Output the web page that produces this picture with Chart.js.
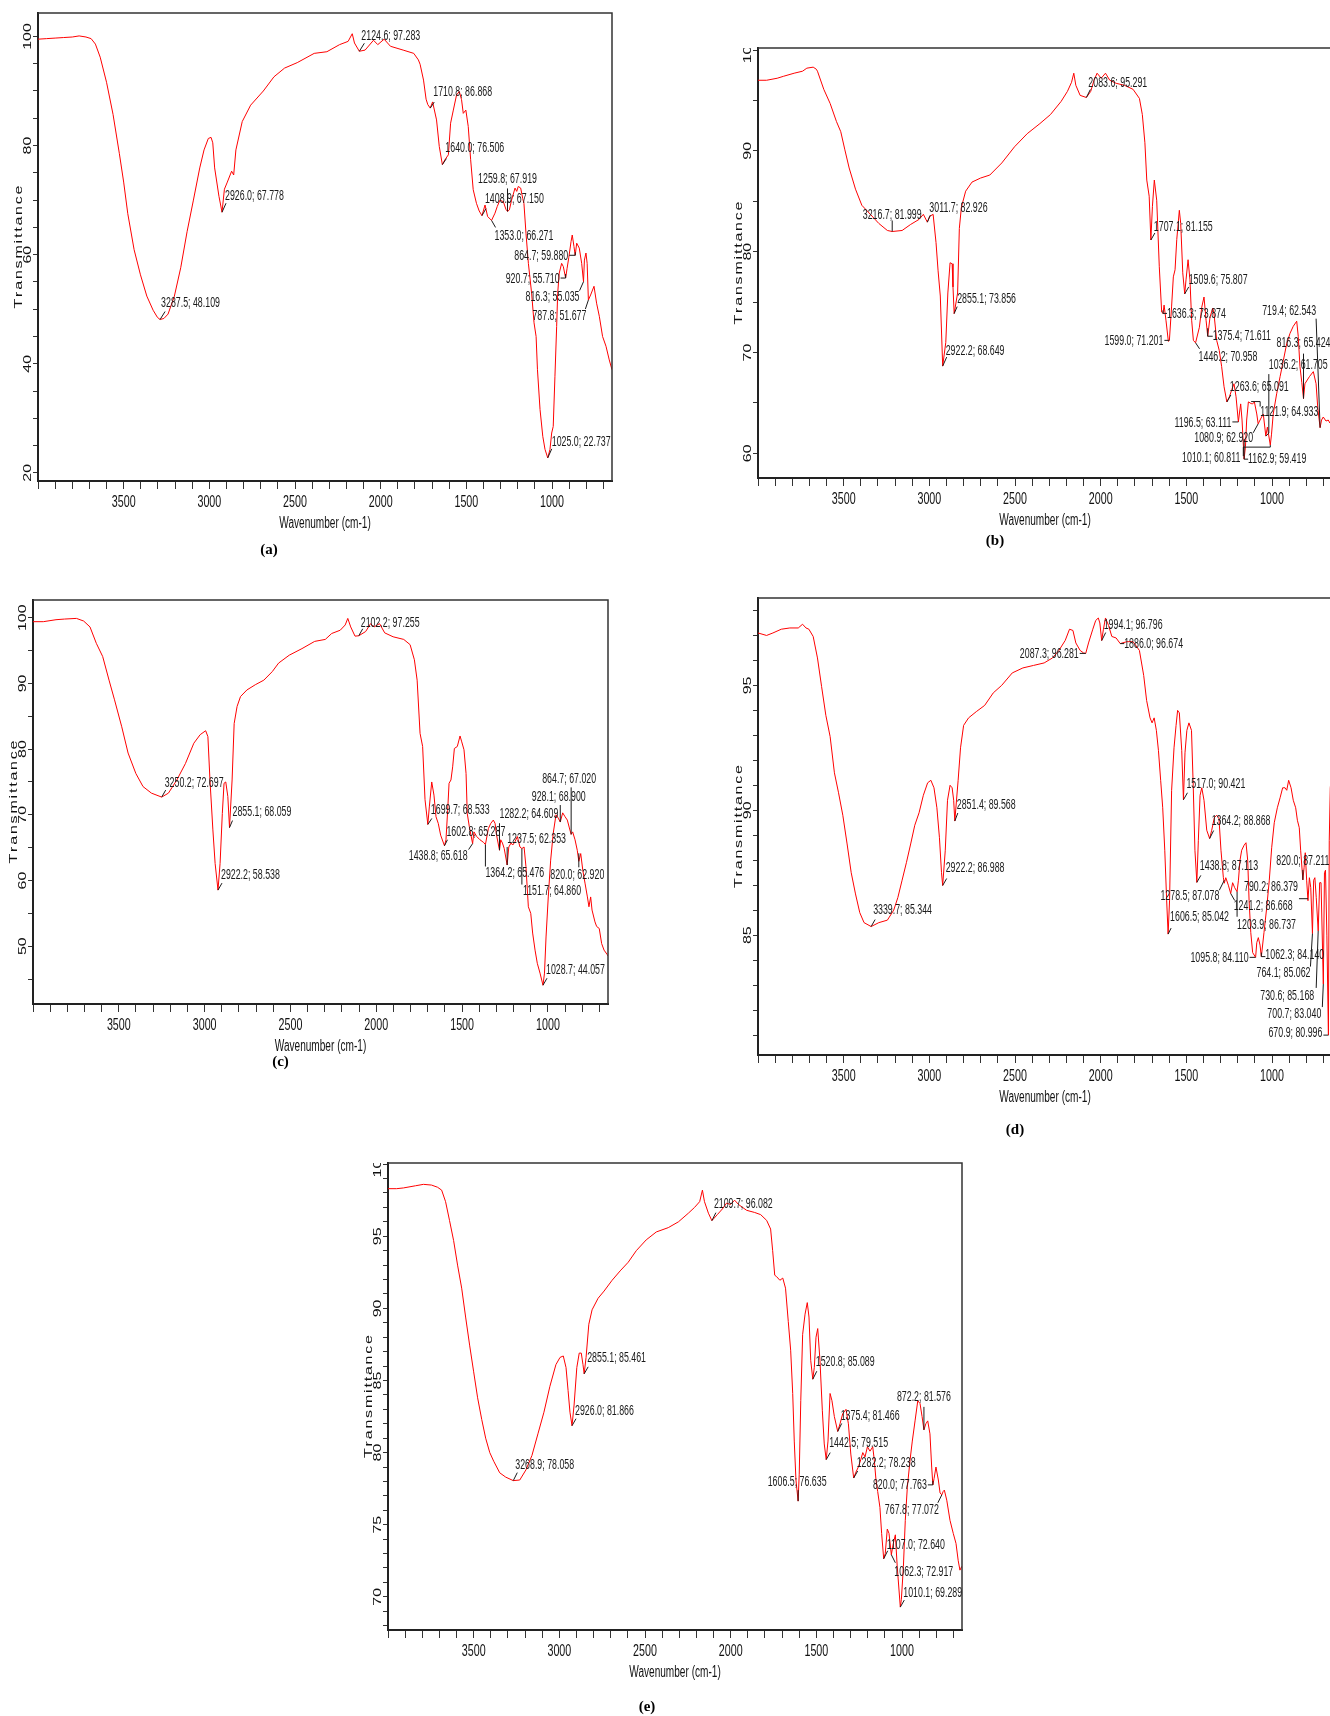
<!DOCTYPE html>
<html><head><meta charset="utf-8">
<script src="https://cdn.jsdelivr.net/npm/chart.js@4/dist/chart.umd.min.js"></script>
<style>
html,body{margin:0;padding:0;background:#fff;overflow:hidden;width:1330px;height:1716px;}
canvas{position:absolute;}
</style></head><body>
<canvas id="ca"></canvas><canvas id="cb"></canvas><canvas id="cc"></canvas><canvas id="cd"></canvas><canvas id="ce"></canvas>
<script>
// ---------- DATA ----------
const xTickLabels = [3500, 3000, 2500, 2000, 1500, 1000];
const yAxisTitle = "Transmittance";
const xAxisTitle = "Wavenumber (cm-1)";
const panelNames = ["(a)", "(b)", "(c)", "(d)", "(e)"];

// (a)
const aWn = [4000,3950,3900,3850,3800,3760,3720,3690,3665,3637,3600,3562,3525,3500,3476,3439,3402,3365,3328,3303,3287.5,3265,3241,3204,3167,3130,3093,3056,3031,3006,2990,2980,2969,2944,2926,2912,2895,2870,2858,2845,2808,2759,2685,2623,2561,2487,2388,2314,2240,2190,2166,2153,2124.6,2091,2042,2017,1980,1943,1869,1807,1780,1770,1750,1735,1725,1710.8,1697,1674,1658,1640,1625,1605,1592,1576,1557,1541,1528,1518,1503,1489,1475,1460,1441,1425,1408.9,1391,1376,1353,1333,1320,1304,1284,1269,1259.8,1249,1236,1216,1206,1197,1183,1171,1164,1152,1138,1119,1105,1093,1085,1070,1054,1041,1025,1012,1002,993,983,973,967,958,944,934,920.7,912,902,889,882,872,864.7,856,841,827,816.3,811,802,795,787.8,775,755,740,724,705,685,666,650];
const aT = [99.5,99.6,99.7,99.8,99.9,100.1,99.9,99.6,98.6,96.2,91.6,85.7,78.5,73.3,67.5,60.9,56.3,52.4,49.8,48.5,48.109,48.3,49.1,52.4,57.6,64.2,70.0,75.9,79.2,81.3,81.5,80.5,75.9,70.7,67.778,72.0,73.3,75.3,74.6,79.2,84.4,87.4,90.0,92.6,94.2,95.2,96.9,97.2,98.5,99.1,100.5,98.8,97.283,97.5,99.3,98.5,99.5,98.2,97.5,96.9,95.7,94.9,92.0,88.5,87.5,86.868,88.0,84.7,79.8,76.506,77.4,78.3,84.1,86.5,89.3,89.9,88.4,85.9,86.5,83.5,77.4,71.9,69.4,68.0,67.150,69.1,67.0,66.271,67.6,68.8,70.0,69.7,68.3,67.919,68.2,70.0,72.2,71.6,72.5,72.2,70.3,69.4,63.9,58.4,52.9,47.5,45.0,38.9,31.6,26.7,24.3,22.737,24.3,27.3,28.5,37.7,46.8,52.9,56.6,58.4,57.8,55.710,57.5,59.5,62.4,63.6,61.5,59.880,62.1,61.2,58.4,55.035,59.0,60.3,58.4,51.677,52.6,54.2,51.1,48.7,45.0,43.2,40.7,38.9];
const aPeakWn = [3287.5,2926.0,2124.6,1710.8,1640.0,1408.9,1353.0,1259.8,1025.0,920.7,864.7,816.3,787.8];
const aPeakT = [48.109,67.778,97.283,86.868,76.506,67.150,66.271,67.919,22.737,55.710,59.880,55.035,51.677];

// (b)
const bWn = [4000,3950,3888,3850,3789,3740,3715,3678,3660,3653,3616,3579,3542,3517,3493,3468,3431,3394,3344,3295,3245,3216.7,3159,3109,3060,3035,3011.7,2998,2978,2961,2949,2936,2922.2,2904,2892,2879,2867,2862,2855.1,2835,2825,2813,2788,2751,2701,2647,2577,2503,2429,2355,2293,2231,2194,2170,2157,2145,2120,2083.6,2058,2039,2021,1997,1972,1947,1910,1861,1811,1774,1757,1742,1731,1717,1707.1,1698,1687,1673,1658,1644,1636.3,1630,1619,1605,1599.0,1586,1576,1566,1556,1541,1533,1521,1509.6,1502,1490,1479,1469,1459,1446.2,1424,1410,1397,1385,1375.4,1362,1346,1339,1323,1308,1294,1280,1263.6,1249,1235,1222,1210,1196.5,1190,1183,1175,1162.9,1155,1148,1138,1121.9,1113,1103,1089,1080.9,1064,1051,1036.2,1027,1010.1,1003,993,973,953,934,914,895,876,856,847,837,826,816.3,808,782,759,743,733,719.4,711,701,685,672,662,650];
const bT = [97.0,97.0,97.2,97.4,97.7,97.9,98.2,98.3,98.1,97.9,96.1,94.7,92.9,91.9,90.1,88.3,86.2,84.6,83.7,82.8,82.1,81.999,82.1,82.7,83.2,83.7,82.926,83.5,83.7,80.9,78.1,75.6,68.649,71.0,75.9,78.9,78.8,76.5,73.856,75.9,82.3,84.4,86.0,86.9,87.3,87.6,88.8,90.4,91.7,92.7,93.6,94.9,95.9,96.8,97.7,96.5,95.5,95.291,95.9,97.0,97.7,97.2,97.7,97.0,96.7,96.5,96.1,95.2,93.6,90.8,87.1,85.5,81.155,84.5,87.1,85.1,78.5,74.0,73.874,74.7,73.2,71.1,71.201,74.6,77.5,78.2,81.2,84.1,82.8,77.9,75.807,77.2,79.2,77.2,73.2,71.2,70.958,72.5,74.5,75.5,73.2,71.611,73.5,74.4,73.9,71.2,70.2,68.6,66.6,65.091,65.6,66.3,66.9,65.6,63.111,64.0,64.9,63.3,59.419,60.7,63.3,65.1,64.933,64.9,65.1,63.9,62.920,63.5,63.9,61.705,62.6,60.811,61.9,63.9,65.9,67.6,69.2,70.9,71.9,72.6,73.1,71.6,68.6,67.0,65.424,66.9,67.6,68.1,66.9,64.5,62.543,63.3,63.6,63.2,63.3,63.0,62.8];
const bPeakWn = [3216.7,3011.7,2922.2,2855.1,2083.6,1707.1,1636.3,1599.0,1509.6,1446.2,1375.4,1263.6,1196.5,1162.9,1121.9,1080.9,1036.2,1010.1,816.3,719.4];
const bPeakT = [81.999,82.926,68.649,73.856,95.291,81.155,73.874,71.201,75.807,70.958,71.611,65.091,63.111,59.419,64.933,62.920,61.705,60.811,65.424,62.543];

// (c)
const cWn = [4000,3940,3866,3816,3747,3705,3668,3631,3594,3557,3525,3483,3446,3401,3359,3310,3250.2,3211,3162,3112,3063,3026,2994,2981,2969,2952,2939,2922.2,2910,2897,2887,2877,2865,2855.1,2840,2828,2811,2791,2754,2705,2655,2606,2569,2507,2433,2359,2297,2260,2210,2181,2166,2149,2124,2102.2,2062,2033,2013,1981,1951,1902,1840,1803,1778,1762,1745,1730,1716,1699.7,1691,1677,1664,1652,1639,1625,1602.8,1594,1584,1576,1565,1555,1545,1528,1512,1502,1489,1477,1470,1458,1438.8,1431,1415,1396,1375,1364.2,1347,1333,1318,1308,1300,1282.2,1275,1265,1255,1237.5,1228,1215,1205,1192,1178,1163,1151.7,1139,1128,1114,1100,1089,1075,1062,1046,1028.7,1020,1011,998,984,969,953,940,928.1,914,900,887,875,864.7,856,842,829,820.0,809,797,784,770,761,751,743,726,716,701,687,673,654,650];
const cT = [99.4,99.4,99.7,99.8,99.9,99.5,98.6,96.1,94.1,90.5,87.5,83.4,79.4,76.3,74.3,73.3,72.697,73.3,75.3,77.8,80.9,82.2,82.8,81.9,75.3,67.7,62.6,58.538,62.6,70.2,74.8,75.0,72.8,68.059,75.3,83.9,86.5,88.0,89.0,89.8,90.5,91.8,93.1,94.3,95.3,96.4,96.7,97.6,98.1,98.9,99.9,98.6,97.2,97.255,97.9,99.1,98.6,99.1,97.7,97.1,96.7,95.9,93.6,90.5,82.4,80.4,72.3,68.533,71.2,75.0,73.0,69.7,68.7,66.9,65.287,66.2,70.7,74.8,75.3,77.3,80.1,80.4,82.0,81.1,79.9,76.3,70.2,68.2,65.618,67.4,66.7,66.2,65.8,65.476,67.9,68.7,69.2,68.7,67.0,64.609,66.2,65.7,64.9,62.353,65.1,65.7,65.4,65.9,66.7,65.1,64.860,65.1,62.1,56.0,55.0,52.0,49.4,47.4,45.9,44.057,45.9,51.4,57.5,63.1,67.2,70.0,69.5,68.900,70.3,69.7,69.2,68.0,67.020,67.4,66.2,64.6,62.920,64.1,61.6,59.6,57.5,56.0,57.5,55.5,53.7,53.0,52.7,50.4,49.4,48.7,48.5];
const cPeakWn = [3250.2,2922.2,2855.1,2102.2,1699.7,1602.8,1438.8,1364.2,1282.2,1237.5,1151.7,1028.7,928.1,864.7,820.0];
const cPeakT = [72.697,58.538,68.059,97.255,68.533,65.287,65.618,65.476,64.609,62.353,64.860,44.057,68.900,67.020,62.920];

// (d)
const dWn = [4000,3950,3913,3864,3814,3765,3740,3720,3703,3678,3653,3629,3604,3579,3554,3530,3505,3480,3456,3431,3406,3381,3339.7,3295,3245,3208,3184,3159,3134,3109,3085,3060,3035,3010,2991,2973,2956,2941,2929,2922.2,2907,2894,2879,2867,2858,2851.4,2832,2818,2800,2771,2726,2677,2627,2578,2516,2454,2392,2330,2281,2244,2207,2182,2162,2145,2120,2100,2087.3,2071,2046,2029,2014,2005,1994.1,1984,1972,1954,1935,1910,1886.0,1848,1811,1774,1749,1732,1712,1700,1688,1675,1663,1650,1638,1626,1615,1606.5,1598,1586,1572,1560,1551,1541,1527,1517.0,1508,1497,1485,1470,1460,1450,1438.8,1430,1420,1410,1397,1381,1364.2,1352,1337,1323,1310,1298,1284,1278.5,1270,1255,1241.2,1230,1218,1203.9,1196,1187,1177,1163,1152,1142,1134,1124,1113,1095.8,1089,1080,1070,1062.3,1047,1031,1016,1002,987,969,953,938,924,914,903,889,876,862,852,841,833,820.0,813,806,798,790.2,782,774,764.1,757,750,742,730.6,722,714,700.7,694,688,680,670.9,666,660,652,650];
const dT = [97.1,97.0,97.1,97.25,97.3,97.3,97.45,97.3,97.25,96.96,96.1,94.96,93.8,92.95,91.5,90.7,89.8,88.65,87.5,86.65,85.9,85.5,85.344,85.5,85.6,86.0,86.5,87.2,87.9,88.65,89.4,89.9,90.6,91.1,91.2,90.9,90.1,88.9,87.5,86.988,88.4,90.4,91.0,90.9,90.4,89.568,91.2,92.5,93.4,93.7,93.95,94.2,94.7,95.0,95.5,95.7,95.8,95.9,96.1,96.4,96.8,97.25,97.2,96.7,96.4,96.3,96.281,96.7,97.25,97.6,97.7,97.5,96.796,97.25,97.7,97.4,96.96,96.9,96.674,96.75,96.75,96.4,95.4,94.4,93.7,93.5,93.7,93.2,92.4,91.2,90.1,88.4,86.4,85.042,86.4,90.8,92.5,93.4,94.0,93.9,92.4,90.421,92.3,93.2,93.5,93.2,91.0,88.4,87.113,88.8,90.6,90.9,90.4,89.2,88.868,89.2,89.7,89.8,89.7,88.4,87.3,87.078,87.3,87.0,86.668,87.1,86.9,86.737,87.2,88.0,88.4,88.6,88.7,88.0,86.4,85.1,84.3,84.110,84.7,84.9,84.6,84.140,85.1,86.1,87.2,88.5,89.5,90.1,90.5,90.9,90.9,90.8,91.2,90.9,90.4,90.1,89.6,89.3,88.4,87.211,87.7,88.3,87.2,86.379,87.3,86.9,85.062,87.2,87.3,86.5,85.168,87.1,87.1,83.040,87.5,87.6,85.0,80.996,88.8,90.9,91.5,91.5];
const dPeakWn = [3339.7,2922.2,2851.4,2087.3,1994.1,1886.0,1606.5,1517.0,1438.8,1364.2,1278.5,1241.2,1203.9,1095.8,1062.3,820.0,790.2,764.1,730.6,700.7,670.9];
const dPeakT = [85.344,86.988,89.568,96.281,96.796,96.674,85.042,90.421,87.113,88.868,87.078,86.668,86.737,84.110,84.140,87.211,86.379,85.062,85.168,83.040,80.996];

// (e)
const eWn = [4000,3950,3910,3840,3793,3746,3711,3687,3664,3641,3617,3594,3570,3547,3523,3500,3477,3453,3430,3406,3383,3348,3313,3268.9,3231,3195,3160,3125,3090,3055,3020,2996,2977,2961,2949,2938,2926.0,2914,2898,2884,2872,2862,2855.1,2844,2828,2809,2774,2739,2692,2645,2598,2551,2493,2434,2364,2305,2247,2211,2181,2165,2153,2130,2109.7,2078,2048,2024,2001,1977,1954,1907,1860,1825,1790,1767,1755,1743,1732,1713,1696,1680,1664,1650,1638,1629,1619,1606.5,1600,1591,1580,1566,1553,1543,1533,1520.8,1512,1502,1492,1479,1465,1454,1442.5,1432,1420,1409,1395,1375.4,1362,1346,1327,1313,1299,1282.2,1269,1255,1241,1229,1216,1202,1187,1171,1162,1152,1142,1129,1119,1107.0,1098,1086,1076,1062.3,1051,1039,1028,1010.1,1004,992,981,969,953,940,924,908,895,883,872.2,861,850,837,827,820.0,813,802,788,778,767.8,760,753,739,720,701,685,672,662,652,650];
const eT = [98.3,98.3,98.35,98.5,98.6,98.55,98.4,98.2,97.4,96.1,94.7,93.0,91.4,89.4,87.4,85.6,83.8,82.3,81.0,80.0,79.4,78.6,78.3,78.058,78.1,78.8,79.8,81.3,82.8,84.6,86.1,86.6,86.7,85.9,84.3,82.8,81.866,83.3,85.9,86.9,86.9,86.1,85.461,86.6,88.9,89.9,90.7,91.2,91.95,92.6,93.2,94.0,94.75,95.3,95.6,96.0,96.6,97.0,97.4,98.2,97.4,96.6,96.082,96.5,96.9,97.3,97.2,97.5,97.2,96.8,96.65,96.5,96.1,95.5,94.0,92.3,92.2,91.95,92.1,91.4,89.1,87.1,84.1,80.8,78.1,76.635,78.5,83.6,88.2,89.6,90.4,89.4,86.4,85.089,85.9,88.0,88.6,86.4,82.9,80.6,79.515,80.8,84.1,83.6,82.5,81.466,82.0,82.7,83.0,82.0,79.9,78.238,78.65,79.0,79.5,80.0,79.7,80.4,80.1,80.4,79.5,78.1,77.3,76.2,74.4,72.640,73.0,74.7,74.4,72.917,73.7,74.3,72.1,69.289,69.8,72.1,75.3,77.6,79.5,80.8,82.2,83.6,83.4,82.5,81.576,82.0,82.2,81.3,79.0,77.763,78.2,79.0,78.1,77.2,77.072,77.3,77.4,76.7,75.3,74.4,73.7,72.5,71.85,72.1,72.0];
const ePeakWn = [3268.9,2926.0,2855.1,2109.7,1606.5,1520.8,1442.5,1375.4,1282.2,1107.0,1062.3,1010.1,872.2,820.0,767.8];
const ePeakT = [78.058,81.866,85.461,96.082,76.635,85.089,79.515,81.466,78.238,72.640,72.917,69.289,81.576,77.763,77.072];

// ---------- LAYOUT / STYLE (positions, offsets; not data) ----------
// annotation leader polylines (pixel offsets from the peak), text offset, alignment
const aLayout = [[[0,0,5,-8],1,-16,'l'],[[0,0,4,-9],3,-16,'l'],[[0,0,5,-8],2,-15.5,'l'],[[0,0,4,-6],3,-16,'l'],[[0,0,4,-6],3,-16,'l'],[[0,0,4,-7],3,-16.5,'l'],[[0,0,4,7],3,16,'l'],[[0,0,0,-23],0,-32,'c'],[[0,0,4,-9],4,-16,'l'],[[0,-4,0,0,-5,0],-6,1,'r'],[[0,-3,0,0,-6,0],-7,1,'r'],[[0,0,-4,9],-4,15,'r'],[[0,0,-3,9],-2,16,'r']];
const bLayout = [[[0,0,0,-11],0,-16,'c'],[[0,0,3,-7],2,-14,'l'],[[0,0,4,-9],3,-15,'l'],[[0,0,3,-7],3,-14,'l'],[[0,0,4,-8],2,-14,'l'],[[0,0,4,-7],3,-13,'l'],[[0,-3,0,0,4,0],4,1,'l'],[[0,0,-5,0],-6,1,'r'],[[0,0,4,-7],4,-14,'l'],[[0,0,4,6],3,14,'l'],[[0,-8,0,0,5,0],5,0,'l'],[[0,0,4,-7],3,-15,'l'],[[0,0,-6,0],-7,1,'r'],[[0,-20,0,0,4,0],4,0,'l'],[[0,-2,9,-2,9,3],9,9,'l'],[[0,0,-5,9],-5,14,'r'],[[0,0,3,-3,3,-62],3,-71,'l'],[[0,0,0,2,-27,2,-27,11],-30,13,'r'],[[0,0,0,-45],0,-55,'c'],[[0,0,-4,-109],-4,-117,'r']];
const cLayout = [[[0,0,4,-7],3,-14,'l'],[[0,0,4,-7],3,-15,'l'],[[0,0,3,-7],3,-15,'l'],[[0,0,4,-7],2,-13,'l'],[[0,0,4,-6],3,-14,'l'],[[0,0,3,-6],2,-14,'l'],[[0,0,-4,6],-5,13,'r'],[[0,0,0,22],0,29,'l'],[[0,0,0,-27],0,-36,'l'],[[0,0,0,-18],0,-26,'l'],[[0,0,0,36],1,43,'l'],[[0,0,4,-7],3,-15,'l'],[[0,0,0,-17],-1.5,-25,'c'],[[0,0,0,-47],-2,-55,'c'],[[0,-8,0,6],-1.5,14,'c']];
const dLayout = [[[0,0,4,-7],2,-16,'l'],[[0,0,4,-7],3,-17,'l'],[[0,0,3,-8],2,-16,'l'],[[0,0,-6,0],-7,1,'r'],[[0,0,4,-8],2,-15,'l'],[[0,0,4,0],4,1,'l'],[[0,0,3,-6],2,-17,'l'],[[0,0,4,-7],3,-16,'l'],[[0,0,4,-7],3,-16,'l'],[[0,0,4,-8],2,-17,'l'],[[0,-3,-5,7],-5,13,'r'],[[0,0,4,7],3,13,'l'],[[0,0,0,25],0,33,'l'],[[0,0,-6,0],-7,1,'r'],[[0,-4,0,0,4,0],4,-1,'l'],[[0,0,0,-10],0,-19,'c'],[[0,-2,-9,-2],-10,-14,'r'],[[0,0,-2,33],-2,40,'r'],[[0,0,-2,57],-4,65,'r'],[[0,0,-1,23],-2,30,'r'],[[0,0,-5,0],-6,-2,'r']];
const eLayout = [[[0,0,4,-8],2,-15,'l'],[[0,0,4,-7],3,-15,'l'],[[0,0,4,-7],3,-16,'l'],[[0,0,4,-8],2,-17,'l'],[[0,0,0,-11],-1,-19,'c'],[[0,0,4,-8],3,-17,'l'],[[0,0,4,-7],3,-16,'l'],[[0,0,4,-8],3,-15,'l'],[[0,0,4,-7],3,-15,'l'],[[0,0,4,-8],3,-14,'l'],[[0,0,4,8],3,17,'l'],[[0,0,4,-7],3,-14,'l'],[[0,0,0,-23],0,-33,'c'],[[0,-4,0,0,-5,0],-6,0,'r'],[[0,0,-4,8],-3,15,'r']];

const SQ = 0.63; // horizontal squeeze of the original figure's lettering
const FONT = '"Liberation Sans", Arial, sans-serif';

const panels = [
  {id:'ca', name:panelNames[0], wn:aWn, t:aT, pw:aPeakWn, pt:aPeakT, lay:aLayout, L:38, T:13, R:612, B:481, yMin:18.5, yMax:104.3, yStep:5, yLab:20, nx:-56, ny:69},
  {id:'cb', name:panelNames[1], wn:bWn, t:bT, pw:bPeakWn, pt:bPeakT, lay:bLayout, L:758, T:48, R:1332, B:478, yMin:57.55, yMax:100.2, yStep:5, yLab:10, nx:-50, ny:63},
  {id:'cc', name:panelNames[2], wn:cWn, t:cT, pw:cPeakWn, pt:cPeakT, lay:cLayout, L:33, T:600, R:608, B:1004, yMin:41.2, yMax:102.7, yStep:5, yLab:10, nx:-40, ny:58},
  {id:'cd', name:panelNames[3], wn:dWn, t:dT, pw:dPeakWn, pt:dPeakT, lay:dLayout, L:758, T:598, R:1332, B:1055, yMin:80.2, yMax:98.5, yStep:1, yLab:5, nx:-30, ny:75},
  {id:'ce', name:panelNames[4], wn:eWn, t:eT, pw:ePeakWn, pt:ePeakT, lay:eLayout, L:388, T:1163, R:962, B:1630, yMin:67.7, yMax:100.08, yStep:1, yLab:5, nx:-28, ny:77.5}
];

function drawSq(ctx, text, x, y, font, align, color) {
  ctx.save();
  ctx.translate(x, y);
  ctx.scale(SQ, 1);
  ctx.font = font;
  ctx.fillStyle = color || '#111';
  ctx.textAlign = align;
  ctx.textBaseline = 'middle';
  ctx.fillText(text, 0, 0);
  ctx.restore();
}

function makePlugin(cfg) {
  return {
    id: 'ftirText_' + cfg.id,
    afterDraw(chart) {
      const ctx = chart.ctx, xs = chart.scales.x, ys = chart.scales.y, ca = chart.chartArea;
      // top and right frame lines
      ctx.save();
      ctx.strokeStyle = '#333'; ctx.lineWidth = 1.5;
      ctx.beginPath();
      ctx.moveTo(ca.left, ca.top); ctx.lineTo(ca.right, ca.top); ctx.lineTo(ca.right, ca.bottom);
      ctx.stroke();
      ctx.restore();
      // x tick labels
      xs.ticks.forEach(tk => {
        if (xTickLabels.includes(tk.value)) {
          drawSq(ctx, String(tk.value), xs.getPixelForValue(tk.value), ca.bottom + 21, '17px ' + FONT, 'center');
        }
      });
      // y tick labels (rotated, clipped at plot top)
      ctx.save();
      ctx.beginPath(); ctx.rect(0, ca.top, ca.left, ca.bottom - ca.top + 30); ctx.clip();
      ys.ticks.forEach(tk => {
        const v = Math.round(tk.value * 1000) / 1000;
        if (Math.abs(v / cfg.yLab - Math.round(v / cfg.yLab)) < 1e-6) {
          const y = ys.getPixelForValue(v);
          ctx.save();
          ctx.translate(ca.left - 10, y); ctx.scale(SQ, 1); ctx.rotate(-Math.PI / 2);
          ctx.font = '16px ' + FONT; ctx.fillStyle = '#111'; ctx.textAlign = 'center'; ctx.textBaseline = 'middle';
          ctx.fillText(String(v), 0, 0);
          ctx.restore();
        }
      });
      ctx.restore();
      // axis titles
      drawSq(ctx, xAxisTitle, (ca.left + ca.right) / 2, ca.bottom + 43, '16px ' + FONT, 'center');
      ctx.save();
      ctx.translate(ca.left - 19, (ca.top + ca.bottom) / 2); ctx.scale(SQ, 1); ctx.rotate(-Math.PI / 2);
      ctx.font = '16px ' + FONT; ctx.fillStyle = '#111'; ctx.textAlign = 'left'; ctx.textBaseline = 'middle';
      const sp = 1.8;
      const chars = yAxisTitle.split('');
      const widths = chars.map(c => ctx.measureText(c).width);
      let tot = widths.reduce((s, w) => s + w, 0) + sp * (chars.length - 1);
      let pos = -tot / 2;
      chars.forEach((c, i) => { ctx.fillText(c, pos, 0); pos += widths[i] + sp; });
      ctx.restore();
      // panel label
      ctx.save();
      ctx.font = 'bold 15px "Liberation Serif", "Times New Roman", serif';
      ctx.fillStyle = '#000'; ctx.textAlign = 'center'; ctx.textBaseline = 'middle';
      ctx.fillText(cfg.name, (ca.left + ca.right) / 2 + cfg.nx, ca.bottom + cfg.ny);
      ctx.restore();
      // peak annotations
      cfg.pw.forEach((w, i) => {
        const t = cfg.pt[i];
        const px = xs.getPixelForValue(w), py = ys.getPixelForValue(t);
        const [pts, tx, ty, al] = cfg.lay[i];
        ctx.save();
        ctx.strokeStyle = '#1a1a1a'; ctx.lineWidth = 1;
        ctx.beginPath();
        for (let k = 0; k < pts.length; k += 2) {
          const X = px + pts[k], Y = py + pts[k + 1];
          if (k === 0) ctx.moveTo(X, Y); else ctx.lineTo(X, Y);
        }
        ctx.stroke();
        ctx.restore();
        const label = w.toFixed(1) + '; ' + t.toFixed(3);
        drawSq(ctx, label, px + tx, py + ty, '14px ' + FONT, al === 'l' ? 'left' : (al === 'r' ? 'right' : 'center'), '#1a1a1a');
      });
    }
  };
}

function makeChart(cfg) {
  const padL = 40, padT = 10, padR = 10, padB = 90;
  const canvas = document.getElementById(cfg.id);
  const w = cfg.R - cfg.L + padL + padR, h = cfg.B - cfg.T + padT + padB;
  canvas.width = w; canvas.height = h;
  canvas.style.width = w + 'px'; canvas.style.height = h + 'px';
  canvas.style.left = (cfg.L - padL) + 'px'; canvas.style.top = (cfg.T - padT) + 'px';
  new Chart(canvas, {
    type: 'line',
    data: { datasets: [{
      data: cfg.wn.map((x, i) => ({x: x, y: cfg.t[i]})),
      borderColor: '#ff0000', borderWidth: 1, pointRadius: 0, tension: 0, fill: false
    }]},
    options: {
      responsive: false, animation: false, devicePixelRatio: 1, events: [],
      layout: {padding: {left: 0, top: padT, right: padR, bottom: 0}},
      plugins: {legend: {display: false}, tooltip: {enabled: false}},
      scales: {
        x: {
          type: 'linear', reverse: true, min: 650, max: 4000,
          afterFit: s => { s.height = padB; },
          ticks: {display: false, stepSize: 100, includeBounds: false},
          grid: {drawOnChartArea: false, drawTicks: true, tickLength: 8, color: '#333', lineWidth: 1},
          border: {display: true, color: '#222', width: 2}
        },
        y: {
          type: 'linear', min: cfg.yMin, max: cfg.yMax,
          afterFit: s => { s.width = padL; },
          ticks: {display: false, stepSize: cfg.yStep, includeBounds: false},
          grid: {drawOnChartArea: false, drawTicks: true, tickLength: 5, color: '#333', lineWidth: 1},
          border: {display: true, color: '#222', width: 2}
        }
      }
    },
    plugins: [makePlugin(cfg)]
  });
}

panels.forEach(makeChart);
</script>
</body></html>
